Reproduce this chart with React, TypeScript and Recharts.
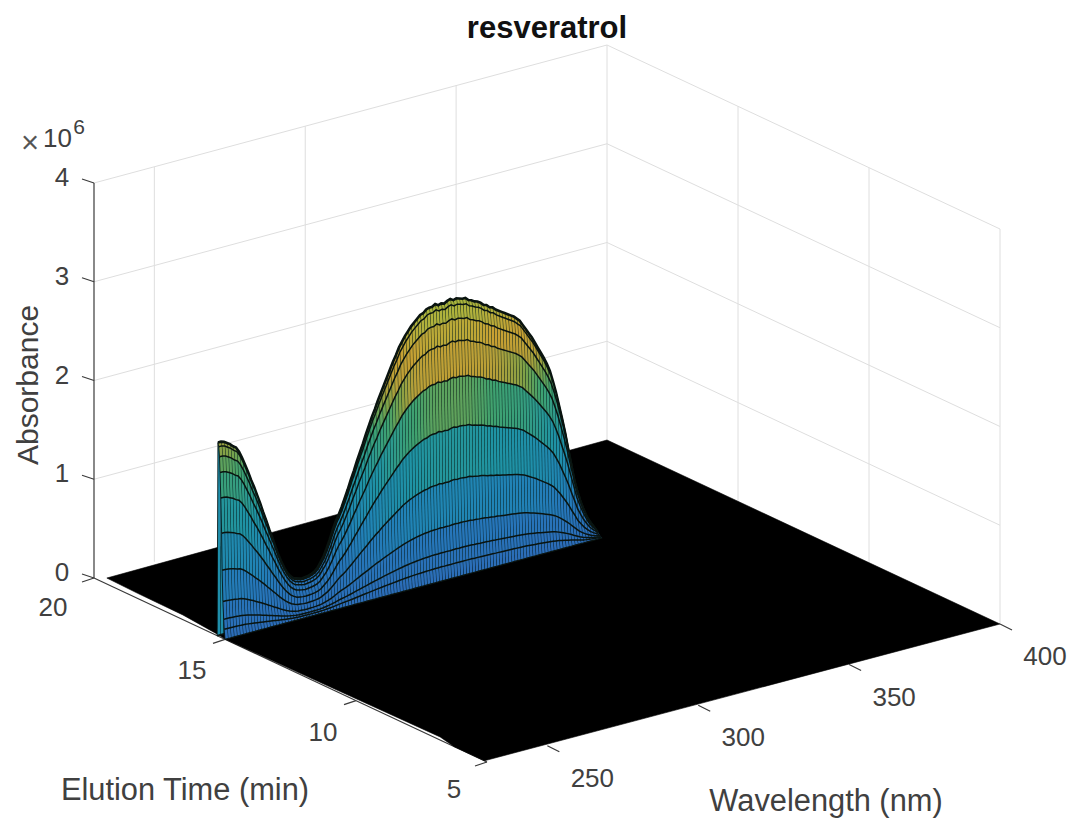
import React from 'react';
import { ComposedChart, Line, Scatter, XAxis, YAxis } from 'recharts';

// ---- values ----
const wavelengthTicks = [250, 300, 350, 400];
const timeTicks = [20, 15, 10, 5];
const absorbanceTicks = [0, 1, 2, 3, 4];
const firstWavelength = 230;
// peak spectrum, one value per nm from 230 nm (units of 1e6)
const peakSpectrum = [
  1.96, 1.96, 1.95, 1.93, 1.91, 1.88, 1.86, 1.81, 1.74, 1.66,
  1.58, 1.49, 1.41, 1.32, 1.23, 1.13, 1.04, 0.94, 0.85, 0.75,
  0.66, 0.58, 0.51, 0.45, 0.41, 0.38, 0.37, 0.36, 0.355, 0.36,
  0.365, 0.375, 0.39, 0.42, 0.47, 0.52, 0.59, 0.67, 0.76, 0.84,
  0.90, 0.97, 1.05, 1.13, 1.22, 1.30, 1.39, 1.47, 1.55, 1.64,
  1.72, 1.80, 1.87, 1.95, 2.02, 2.09, 2.16, 2.23, 2.30, 2.36,
  2.43, 2.48, 2.53, 2.57, 2.61, 2.64, 2.67, 2.70, 2.71, 2.74,
  2.75, 2.75, 2.77, 2.75, 2.76, 2.75, 2.77, 2.78, 2.76, 2.77,
  2.76, 2.75, 2.75, 2.72, 2.71, 2.69, 2.68, 2.66, 2.63, 2.62,
  2.59, 2.58, 2.55, 2.53, 2.51, 2.49, 2.47, 2.45, 2.43, 2.40,
  2.37, 2.32, 2.27, 2.22, 2.17, 2.11, 2.05, 1.99, 1.93, 1.86,
  1.78, 1.67, 1.55, 1.41, 1.27, 1.12, 0.95, 0.79, 0.62, 0.50,
  0.39, 0.30, 0.22, 0.16, 0.11, 0.06,
];
// the rows of the mesh on the front side of the elution peak
const elutionTimes = [15.3, 15.27, 15.24, 15.21, 15.19, 15.16, 15.13, 15.11, 15.08, 15.05, 15.03, 15.0];
const elutionResponse = [0, 1.0, 0.98, 0.93, 0.85, 0.72, 0.54, 0.35, 0.19, 0.1, 0.05, 0];
// outline of the black floor, [wavelength, time]
const floorOutline = [
  [232.7, 19.82], [400, 20], [400, 5], [230, 5.1], [230, 6.25], [231.4, 6.95],
  [230.1, 14.94], [230.8, 15.47], [232.1, 16.85], [232.3, 18.6],
];

// ---- view of the 3D box ----
const W = 1074;
const H = 818;
const ORIGIN = [94, 578];
const WL_SPAN = [513, -138];
const T_SPAN = [393, 184];
const Z_UNIT = 98.75;
const project = (wl: number, t: number, z: number) => {
  const a = (wl - 230) / 170;
  const b = (20 - t) / 15;
  return {
    x: ORIGIN[0] + a * WL_SPAN[0] + b * T_SPAN[0],
    y: ORIGIN[1] + a * WL_SPAN[1] + b * T_SPAN[1] - z * Z_UNIT,
  };
};
const shifted = (p: { x: number; y: number }, dx: number, dy: number) => ({ x: p.x + dx, y: p.y + dy });

// colour map of the surface, as seen in the picture: [absorbance, colour]
const COLOR_STOPS: [number, string][] = [
  [0, '#2c6cb8'],
  [0.4, '#2676ba'],
  [0.7, '#2084b6'],
  [1.16, '#1f94a4'],
  [1.64, '#3fa270'],
  [1.85, '#7ea248'],
  [2.04, '#b8a038'],
  [2.3, '#c8a032'],
  [2.57, '#b2b03c'],
  [2.8, '#a8b83c'],
];
const hex = (c: string) => [1, 3, 5].map((i) => parseInt(c.slice(i, i + 2), 16));
const surfaceColor = (z: number) => {
  let i = 0;
  while (i < COLOR_STOPS.length - 2 && z > COLOR_STOPS[i + 1][0]) i++;
  const [z0, c0] = COLOR_STOPS[i];
  const [z1, c1] = COLOR_STOPS[i + 1];
  const m = Math.max(0, Math.min(1, (z - z0) / (z1 - z0)));
  const A = hex(c0);
  const B = hex(c1);
  return `rgb(${A.map((a, k) => Math.round(a + (B[k] - a) * m)).join(',')})`;
};

// ---- tables for the library ----
const nW = peakSpectrum.length;
const nR = elutionTimes.length;
const surfaceData = elutionTimes.flatMap((t, r) =>
  peakSpectrum.map((s, j) => ({ ...project(firstWavelength + j, t, s * elutionResponse[r]), z: s * elutionResponse[r] })),
);
const floorData = floorOutline.map(([wl, t]) => project(wl, t, 0));

const seg = (a: any, b: any) => [a, b];
const gridLines: any[] = [
  ...wavelengthTicks.map((wl) => seg(project(wl, 20, 0), project(wl, 20, 4))),
  ...absorbanceTicks.slice(1).map((z) => seg(project(230, 20, z), project(400, 20, z))),
  ...absorbanceTicks.slice(1).map((z) => seg(project(400, 20, z), project(400, 5, z))),
  ...timeTicks.slice(1).map((t) => seg(project(400, t, 0), project(400, t, 4))),
];
const axisLines: any[] = [
  seg(project(230, 20, 0), project(230, 20, 4)),
  seg(project(230, 20, 0), project(230, 5, 0)),
  ...absorbanceTicks.map((z) => seg(project(230, 20, z), shifted(project(230, 20, z), -12, -4))),
  ...timeTicks.map((t) => seg(project(230, t, 0), shifted(project(230, t, 0), -12, 4))),
  ...wavelengthTicks.map((wl) => seg(project(wl, 5, 0), shifted(project(wl, 5, 0), 12, 6))),
];

const INK = '#404040';
const tickLabels = [
  ...absorbanceTicks.map((z) => ({ ...shifted(project(230, 20, z), -32, -6), label: String(z), size: 26, fill: INK })),
  ...timeTicks.map((t) => ({
    ...shifted(project(230, t, 0), t === 20 ? -41 : -33, t === 20 ? 29 : t === 5 ? 27 : 31),
    label: String(t),
    size: 26,
    fill: INK,
  })),
  ...wavelengthTicks.map((wl) => ({ ...shifted(project(wl, 5, 0), 45, 32), label: String(wl), size: 26, fill: INK })),
];
const titleLabels = [
  { x: 547, y: 27, label: 'resveratrol', size: 31, fill: '#111111', bold: true },
  { x: 826, y: 800, label: 'Wavelength (nm)', size: 30.8, fill: INK },
  { x: 185, y: 789, label: 'Elution Time (min)', size: 30.8, fill: INK },
  { x: 27, y: 385, label: 'Absorbance', size: 30, fill: INK, rotate: -90 },
  { x: 30, y: 142, label: '\u00d7', size: 31, fill: '#555555' },
  { x: 57.5, y: 138, label: '10', size: 26, fill: INK },
  { x: 79, y: 126, label: '6', size: 21, fill: INK },
];

// ---- drawing helpers ----
const noSymbol = () => <g />;
const TextMark = (p: any) => {
  const d = p.payload;
  return (
    <text
      x={p.cx}
      y={p.cy}
      textAnchor="middle"
      dominantBaseline="central"
      fontFamily="'Liberation Sans', Arial, sans-serif"
      fontSize={d.size}
      fontWeight={d.bold ? 700 : 400}
      fill={d.fill}
      transform={d.rotate ? `rotate(${d.rotate} ${p.cx} ${p.cy})` : undefined}
    >
      {d.label}
    </text>
  );
};
const floorPolygon = (p: any) => (
  <polygon points={p.points.map((q: any) => `${q.x},${q.y}`).join(' ')} fill="#000000" stroke="#000000" strokeWidth={0.6} />
);
const surfaceMesh = (p: any) => {
  const pts = p.points;
  const at = (r: number, j: number) => pts[r * nW + j];
  const out: React.ReactNode[] = [];
  for (let r = 0; r < nR - 1; r++) {
    for (let j = nW - 2; j >= 0; j--) {
      const a = at(r, j);
      const b = at(r, j + 1);
      const c = at(r + 1, j + 1);
      const d = at(r + 1, j);
      const z = (surfaceData[r * nW + j].z + surfaceData[(r + 1) * nW + j].z) / 2;
      out.push(
        <path key={`f${r}-${j}`} d={`M${a.x} ${a.y}L${b.x} ${b.y}L${c.x} ${c.y}L${d.x} ${d.y}Z`} fill={surfaceColor(z)} stroke="none" />,
      );
      out.push(<path key={`v${r}-${j}`} d={`M${a.x} ${a.y}L${d.x} ${d.y}`} stroke="#04100f" strokeWidth={0.85} fill="none" />);
    }
    const line = (row: number) =>
      Array.from({ length: nW }, (_, j) => `${j ? 'L' : 'M'}${at(row, j).x} ${at(row, j).y}`).join('');
    out.push(<path key={`r${r}`} d={line(r)} stroke="#0a1410" strokeWidth={r === 1 ? 2.6 : 1.5} fill="none" />);
    if (r === nR - 2) out.push(<path key="last" d={line(r + 1)} stroke="#0a1410" strokeWidth={1.2} fill="none" />);
  }
  return <g>{out}</g>;
};

export default function App() {
  return (
    <div style={{ position: 'absolute', left: 0, top: 0, width: W, height: H, background: '#fff' }}>
      <ComposedChart width={W} height={H} margin={{ top: 0, right: 0, bottom: 0, left: 0 }}>
        <XAxis type="number" dataKey="x" domain={[0, W]} hide />
        <YAxis type="number" dataKey="y" domain={[0, H]} reversed hide />
        {gridLines.map((d, i) => (
          <Line key={`g${i}`} data={d} dataKey="y" stroke="#dedede" strokeWidth={1} dot={false} legendType="none" isAnimationActive={false} />
        ))}
        <Scatter name="floor" data={floorData} line={floorPolygon} shape={noSymbol} isAnimationActive={false} />
        <Scatter name="surface" data={surfaceData} line={surfaceMesh} shape={noSymbol} isAnimationActive={false} />
        {axisLines.map((d, i) => (
          <Line key={`a${i}`} data={d} dataKey="y" stroke="#3a3a3a" strokeWidth={1.2} dot={false} legendType="none" isAnimationActive={false} />
        ))}
        <Scatter name="ticks" data={tickLabels} shape={TextMark} isAnimationActive={false} />
        <Scatter name="titles" data={titleLabels} shape={TextMark} isAnimationActive={false} />
      </ComposedChart>
    </div>
  );
}
